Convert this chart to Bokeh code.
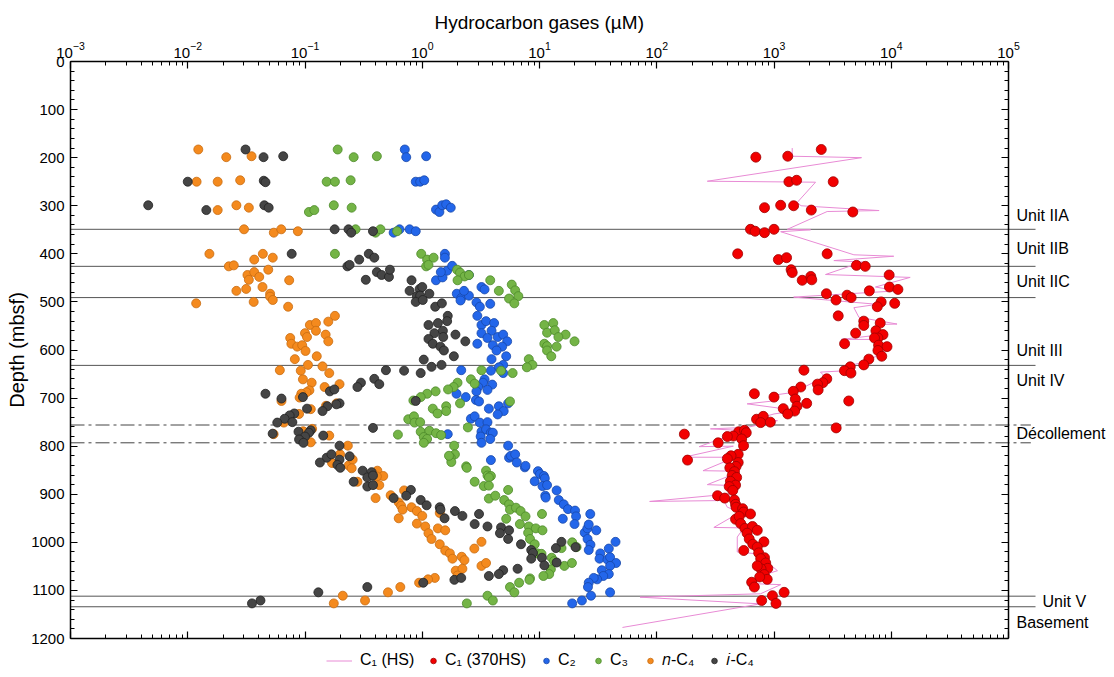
from bokeh.plotting import figure
from bokeh.layouts import column
from bokeh.models import (Range1d, LogAxis, LinearAxis, FixedTicker, CustomJSTickFormatter,
                          Label, Legend, LegendItem, LogTickFormatter)
from bokeh.embed import file_html
from bokeh.resources import INLINE

FONT = "Liberation Sans"

# ---------------- data: (depth mbsf, concentration µM) ----------------
C1_HS = [(180,1430),(197,1430),(200,5580),(249,270),(251,2260),(293,1580),(300,1700),(310,7880),
         (312,2840),(349,1300),(350,2050),(354,1140),(402,4800),(405,10500),(414,3240),(417,5650),
         (443,2750),(449,14500),(469,7330),(477,11200),(490,1470),(505,7600),(512,4800),(532,5300),
         (546,11200),(547,7600),(570,7100),(578,3740),(578,7100),(594,7600),(605,8800),(625,5830),
         (632,4500),(643,4200),(646,2490),(660,2840),(667,2190),(688,1470),(695,930),(705,1070),
         (712,590),(726,1580),(733,1000),(743,720),(747,1070),(761,590),(764,287),(768,590),
         (785,350),(801,230),(800,450),(823,170),(823,425),(833,373),(851,248),(852,450),(861,425),
         (880,270),(882,450),(899,436),(915,87),(913,373),(927,400),(937,518),(969,307),(970,552),
         (989,486),(1020,486),(1024,720),(1059,1070),(1066,865),(1086,673),(1088,1140),(1107,767),
         (1114,72),(1128,767),(1177,51)]

C1_370HS = [(183,2530),(199,700),(197,1310),(250,1340),(247,1560),(250,3200),(304,830),(299,1140),
            (300,1470),(309,2080),(313,4700),(349,630),(353,690),(356,830),(349,1000),(400,490),
            (412,1090),(408,1280),(400,2840),(424,5050),(426,6000),(433,1400),(439,1430),(455,1740),
            (447,2060),(454,2100),(444,9600),(469,9650),(474,11400),(477,6500),(483,2800),(496,3380),
            (486,4200),(491,4550),(500,8200),(510,7600),(503,10700),(529,3530),(540,5830),(549,5830),
            (544,8050),(560,7400),(568,8500),(575,7700),(575,7200),(590,7800),(593,9200),(601,7700),
            (613,8300),(565,4970),(587,4000),(619,6440),(631,5830),(635,4470),(643,3990),(648,4530),
            (642,1800),(660,2820),(668,2610),(671,2350),(683,2380),(677,1690),(686,1460),(691,680),
            (698,1000),(702,1520),(717,1570),(711,1900),(706,4340),(722,1200),(727,1500),(733,1310),
            (744,710),(738,810),(751,770),(750,930),(762,3390),(770,500),(767,560),(772,580),(779,450),
            (780,400),(775,172),(785,530),(799,550),(793,334),(817,495),(820,430),(826,400),(829,183),
            (834,495),(842,475),(845,420),(853,460),(861,440),(865,480),(873,425),(881,470),(884,415),
            (892,445),(903,330),(908,380),(912,460),(921,470),(927,475),(930,540),(937,550),(941,630),
            (952,470),(946,505),(961,520),(971,565),(967,655),(975,720),(981,590),(993,615),(999,820),
            (1004,660),(1010,720),(1022,740),(1032,830),(1034,770),(1043,850),(1054,885),(1055,775),
            (1067,825),(1077,875),(1072,755),(1049,720),(1017,552),(1083,645),(1093,680),(1104,1220),
            (1111,970),(1121,785),(1127,1040)]

C2 = [(183,0.71),(199,0.73),(197,1.08),(250,0.88),(250,0.96),(247,1.04),(308,1.31),(313,1.4),
      (299,1.48),(297,1.6),(304,1.75),(356,0.57),(349,0.64),(349,0.78),(353,0.88),(400,1.56),
      (408,1.56),(455,1.31),(449,1.49),(435,1.63),(425,1.8),(438,1.44),(444,2.5),(483,1.97),
      (492,2.15),(497,2.12),(487,2.5),(477,2.27),(469,3.2),(474,3.4),(501,2.9),(510,3.1),(504,3.8),
      (529,2.95),(548,3.2),(540,3.5),(544,4.1),(565,3.2),(560,3.9),(587,2.95),(575,3.6),(573,4.4),
      (568,4.9),(582,5.3),(590,4.0),(593,4.8),(601,4.3),(613,5.2),(619,3.9),(631,4.9),(636,4.5),
      (648,4.9),(642,2.15),(643,3.85),(661,3.4),(668,3.3),(677,3.0),(672,3.95),(683,3.6),(686,2.9),
      (704,2.87),(698,2.35),(691,1.96),(707,3.05),(722,3.7),(717,4.5),(727,4.95),(734,4.4),
      (711,5.4),(743,2.6),(738,2.8),(751,3.1),(750,3.6),(770,3.2),(765,3.5),(772,3.85),(772,4.0),
      (775,1.65),(780,3.15),(793,3.2),(785,3.8),(799,5.4),(829,3.85),(824,5.5),(820,5.7),(817,6.2),
      (834,6.4),(844,7.5),(841,7.6),(852,9.7),(858,10.1),(862,10.9),(867,11.1),(873,9.1),
      (883,10.6),(881,11.6),(903,11.2),(907,11.3),(892,14.0),(912,14.6),(921,16.1),(931,17.5),
      (934,20.1),(946,20.5),(951,15.8),(962,19.9),(941,27.1),(980,24.3),(971,25.6),(963,26.3),
      (975,30.5),(993,25.7),(1005,27.2),(1016,26.3),(1023,33),(1034,32.5),(1036,38),(1013,39),
      (1031,40),(999,44.5),(1043,45),(1049,40),(1058,34),(1066,39),(1070,35),(1077,31),(1074,29),
      (1084,26.3),(1093,25.9),(1104,40),(1111,27.5),(1121,23),(1127,19)]

C3 = [(183,0.19),(199,0.26),(197,0.41),(250,0.153),(250,0.18),(247,0.245),(313,0.108),(309,0.12),
      (299,0.176),(304,0.25),(349,0.27),(356,0.40),(349,0.44),(353,0.61),(400,0.18),(400,0.98),
      (412,1.1),(408,1.25),(426,1.08),(423,1.13),(433,1.98),(439,2.1),(447,2.3),(444,2.5),(455,2.0),
      (455,3.8),(477,4.5),(464,5.8),(476,6.2),(488,6.6),(493,5.5),(503,6.1),
      (548,11),(544,13.1),(564,11.6),(559,13.5),(568,16.7),(573,14.5),(582,19.9),(587,11),
      (592,11.6),(601,11.6),(613,12.6),(593,14.0),(619,8.1),(631,8.7),(636,7.8),(648,5.9),(642,3.2),
      (643,4.7),(661,2.6),(670,2.8),(668,2.0),(677,1.85),(682,1.66),(686,1.3),(691,1.1),(698,0.97),
      (705,0.84),(711,2.1),(722,1.23),(717,1.6),(732,1.35),(727,1.6),(707,5.6),(744,0.76),(738,0.85),
      (751,0.86),(750,0.96),(761,2.45),(770,0.97),(768,1.15),(773,1.31),(777,1.45),(781,1.03),
      (785,1.1),(793,1.03),(776,0.62),(799,1.87),(817,1.9),(824,1.75),(833,1.77),(820,1.69),
      (842,2.37),(845,2.4),(874,2.8),(851,3.5),(861,3.6),(862,3.85),(865,3.7),(883,3.35),(882,3.7),
      (909,3.7),(903,4.2),(891,5.4),(912,5.0),(921,5.5),(932,5.6),(928,6.3),(935,6.9),(946,7.6),
      (951,5.2),(962,6.8),(941,10.5),(967,8.1),(971,9.3),(975,10.6),(980,8.0),(993,8.3),(1004,9.1),
      (1023,9.6),(1024,10.4),(1012,15.4),(1000,19),(1010,20.7),(1032,12.7),(1039,13.3),(1049,16.3),
      (1043,18.9),(1056,12.5),(1066,12.1),(1070,10.8),(1075,8.3),(1078,8.2),(1084,6.7),(1093,5.6),
      (1104,6.1),(1111,3.6),(1121,4.0),(1127,2.4)]

N_C4 = [(183,0.0123),(199,0.0213),(197,0.035),(250,0.0119),(250,0.018),(247,0.028),(309,0.018),
        (299,0.026),(304,0.0332),(349,0.0302),(356,0.0542),(349,0.0627),(353,0.0869),(400,0.0153),
        (412,0.0369),(400,0.0437),(408,0.0531),(426,0.0224),(424,0.0247),(444,0.0323),(438,0.0369),
        (448,0.0407),(433,0.0486),(455,0.0733),(454,0.0332),(477,0.026),(473,0.0315),(469,0.0434),
        (483,0.0504),(489,0.0504),(496,0.0531),(503,0.0118),(500,0.0365),(510,0.0718),
        (529,0.18),(548,0.110),(544,0.124),(541,0.158),(560,0.124),(565,0.100),(573,0.104),
        (568,0.150),(582,0.158),(575,0.0748),(587,0.0765),(593,0.0858),(590,0.0946),(602,0.101),
        (613,0.126),(619,0.0819),(631,0.106),(634,0.141),(648,0.161),(642,0.061),(643,0.092),
        (661,0.096),(668,0.114),(677,0.147),(671,0.197),(684,0.109),(688,0.103),(691,0.093),
        (699,0.090),(706,0.063),(733,0.089),(723,0.112),(716,0.151),(711,0.186),(751,0.066),
        (764,0.115),(769,0.0965),(775,0.054),(792,0.112),(778,0.161),(799,0.232),(835,0.17),
        (817,0.199),(840,0.236),(828,0.255),(846,0.25),(851,0.414),(862,0.465),(863,0.41),(881,0.43),
        (874,0.28),(908,0.40),(902,0.538),(917,0.63),(950,0.63),(1104,0.51),(1093,0.65),(1111,0.21),
        (1121,0.325),(1127,0.176),(892,0.70),(924,0.66),(932,0.68),(927,0.81),(935,0.90),(945,1.0),
        (939,1.41),(961,0.90),(967,1.06),(981,1.13),(993,1.2),(971,1.36),(975,1.57),(1004,1.41),
        (1017,1.57),(1023,1.72),(1034,1.81),(1030,2.17),(1037,2.29),(1013,2.78),(999,3.2),
        (1059,1.93),(1055,2.2),(1069,2.0),(1049,3.2),(1043,3.5),(1074,1.28),(1077,1.12),(1084,0.94)]

I_C4 = [(183,0.0311),(199,0.0443),(197,0.0652),(250,0.0100),(248,0.0445),(251,0.046),(299,0.0046),
        (309,0.0144),(299,0.045),(304,0.049),(349,0.179),(349,0.235),(356,0.248),(353,0.38),
        (400,0.077),(426,0.23),(423,0.24),(412,0.29),(400,0.35),(408,0.39),(438,0.41),(444,0.45),
        (448,0.52),(433,0.53),(454,0.33),(455,0.81),(477,0.78),(473,0.95),(469,1.0),(488,0.9),
        (487,0.96),(483,1.15),(500,0.88),(496,1.01),(510,1.29),(503,1.47),(529,1.65),(540,1.63),
        (548,1.13),(544,1.36),(565,1.27),(560,1.5),(573,1.51),(568,1.92),(577,1.13),(587,1.23),
        (593,1.43),(601,1.53),(582,2.33),(613,1.86),(620,1.03),(643,0.70),(648,0.97),(635,1.2),
        (631,1.46),(706,0.88),(642,0.49),(660,0.39),(671,0.43),(668,0.30),(677,0.28),(686,0.163),
        (682,0.178),(691,0.046),(701,0.063),(698,0.096),(711,0.197),(713,0.185),(717,0.155),
        (727,0.141),(722,0.104),(732,0.081),(736,0.074),(743,0.067),(751,0.058),(750,0.078),
        (762,0.38),(774,0.053),(770,0.088),(767,0.112),(772,0.108),(780,0.10),(786,0.089),
        (793,0.097),(778,0.143),(799,0.197),(824,0.153),(817,0.168),(834,0.134),(828,0.197),
        (839,0.189),(845,0.2),(821,0.24),(851,0.31),(854,0.37),(865,0.34),(861,0.38),(874,0.26),
        (884,0.34),(881,0.38),(908,0.57),(1104,0.13),(1093,0.34),(1121,0.0417),(1127,0.0353),
        (891,0.80),(903,0.73),(912,0.97),(923,1.09),(927,1.41),(932,1.43),(950,1.55),(935,1.90),
        (945,2.2),(941,3.05),(962,2.8),(967,3.6),(969,4.7),(981,4.6),(975,5.5),(993,5.4),
        (1004,6.95),(1016,8.5),(1022,8.8),(1034,8.5),(1032,10.5),(1048,11.0),(1012,13.8),
        (999,15.4),(1010,20.3),(1042,14.0),(1058,4.9),(1066,4.5),(1055,6.5),(1070,3.7),
        (1078,1.88),(1074,2.15),(1084,1.02)]

# lithologic unit boundaries and labels
unit_boundaries = [349, 426, 491, 632, 1112, 1134]
decollement_boundaries = [756, 793]
unit_labels = ["Unit IIA", "Unit IIB", "Unit IIC", "Unit III", "Unit IV", "Décollement", "Unit V", "Basement"]
unit_label_depths = [320, 389, 458, 601, 663, 774, 1123, 1167]

x_decade_ticks = [1e-3, 1e-2, 1e-1, 1e0, 1e1, 1e2, 1e3, 1e4, 1e5]
depth_ticks = [0, 100, 200, 300, 400, 500, 600, 700, 800, 900, 1000, 1100, 1200]

# ---------------- layout ----------------
FRAME_W, FRAME_H = 1036, 577
BORDER_L, BORDER_T = 70, 61
PX_PER_DEC = (1008 - 70) / 8.0
x_hi = 10 ** (5 + (BORDER_L + FRAME_W - 1008) / PX_PER_DEC)

p = figure(frame_width=FRAME_W, frame_height=FRAME_H, x_axis_type="log", x_axis_location="above",
           x_range=Range1d(1e-3, x_hi), y_range=Range1d(1200, 0),
           title="Hydrocarbon gases (µM)",
           output_backend="svg", toolbar_location=None,
           min_border_left=BORDER_L, min_border_top=BORDER_T, min_border_right=0, min_border_bottom=14)
p.outline_line_color = None
p.grid.visible = False

p.title.align = "left"
p.title.offset = 364
p.title.text_font = FONT
p.title.text_font_size = "19px"
p.title.text_font_style = "normal"
p.title.text_color = "black"
p.title.standoff = 12

minor_x = [m * 10.0 ** k for k in range(-3, 5) for m in range(2, 10)]
xticker = FixedTicker(ticks=x_decade_ticks, minor_ticks=minor_x)
yticker = FixedTicker(ticks=depth_ticks, minor_ticks=list(range(0, 1201, 20)))
blank = CustomJSTickFormatter(code="return ''")

def style_axis(ax):
    ax.axis_line_color = "black"
    ax.axis_line_width = 1.5
    ax.major_tick_line_color = "black"
    ax.minor_tick_line_color = "black"
    ax.major_tick_line_width = 1.2
    ax.minor_tick_line_width = 1
    ax.major_tick_in = 7
    ax.major_tick_out = 0
    ax.minor_tick_in = 4
    ax.minor_tick_out = 0
    ax.major_label_text_font = FONT
    ax.major_label_text_font_size = "15px"
    ax.major_label_text_color = "black"

top = p.xaxis[0]
style_axis(top)
top.bounds = (1e-3, 1e5)
top.ticker = xticker
top.formatter = LogTickFormatter()
top.major_label_standoff = 4

left = p.yaxis[0]
style_axis(left)
left.ticker = yticker
left.major_label_standoff = 6
left.axis_label = "Depth (mbsf)"
left.axis_label_text_font = FONT
left.axis_label_text_font_size = "20px"
left.axis_label_text_font_style = "normal"
left.axis_label_text_color = "black"
left.axis_label_standoff = 0

bottom = LogAxis(bounds=(1e-3, 1e5), ticker=xticker, formatter=blank)
style_axis(bottom)
bottom.major_label_text_color = None
bottom.major_label_standoff = 0
p.add_layout(bottom, "below")

right = LinearAxis(fixed_location=1e5, ticker=yticker, formatter=blank)
style_axis(right)
right.major_label_text_color = None
p.add_layout(right, "right")

# unit boundary lines
n_b = len(unit_boundaries)
p.segment(x0=[1e-3] * n_b, x1=[1.7e5] * n_b, y0=unit_boundaries, y1=unit_boundaries,
          line_color="#555555", line_width=1)
n_d = len(decollement_boundaries)
p.segment(x0=[1e-3] * n_d, x1=[1.55e5] * n_d, y0=decollement_boundaries, y1=decollement_boundaries,
          line_color="#444444", line_width=1, line_dash="14 4 3 4")

for lab, dep in zip(unit_labels, unit_label_depths):
    xx = 1.95e5 if lab == "Unit V" else 1.17e5
    p.add_layout(Label(x=xx, y=dep, text=lab, text_align="left", text_baseline="middle",
                       text_font=FONT, text_font_size="16px", text_color="black"))

def split(pts):
    return [d for d, _ in pts], [v for _, v in pts]

STYLES = {
    "hs":  dict(line_color="#e88bd5", line_width=1),
    "370": dict(fill_color="#f20000", line_color="#a00000", line_width=0.8),
    "c2":  dict(fill_color="#2366ea", line_color="#1848a8", line_width=0.8),
    "c3":  dict(fill_color="#74b446", line_color="#4d8a2a", line_width=0.8),
    "n4":  dict(fill_color="#f48a1e", line_color="#c86c12", line_width=0.8),
    "i4":  dict(fill_color="#454545", line_color="#222222", line_width=0.8),
}
SERIES = [("hs", C1_HS), ("370", C1_370HS), ("c2", C2), ("c3", C3), ("n4", N_C4), ("i4", I_C4)]

def draw(fig):
    out = {}
    for key, pts in SERIES:
        d, v = split(pts)
        if key == "hs":
            out[key] = fig.line(v, d, **STYLES[key])
        else:
            out[key] = fig.scatter(v, d, size=10 if key == "370" else 9, marker="circle", **STYLES[key])
    return out

draw(p)

# ---------------- legend strip below the plot ----------------
# same renderers drawn into a thin strip whose ranges keep the data out of view
lg = figure(width=BORDER_L + FRAME_W, height=17, x_range=Range1d(0, 1), y_range=Range1d(0, 1),
            output_backend="svg", toolbar_location=None, min_border=0)
lg.axis.visible = False
lg.grid.visible = False
lg.outline_line_color = None
rl = draw(lg)

common = dict(orientation="horizontal", label_text_font=FONT, label_text_font_size="16px",
              label_text_color="black", border_line_color=None, background_fill_alpha=0,
              padding=0, margin=0, glyph_height=17, label_height=17)
leg1 = Legend(items=[LegendItem(label="C₁ (HS)", renderers=[rl["hs"]])],
              location=(256, 0), glyph_width=26, label_standoff=8, spacing=0, **common)
leg2 = Legend(items=[
    LegendItem(label="C₁ (370HS)", renderers=[rl["370"]]),
    LegendItem(label="C₂", renderers=[rl["c2"]]),
    LegendItem(label="C₃", renderers=[rl["c3"]]),
    LegendItem(label="𝑛-C₄", renderers=[rl["n4"]]),
    LegendItem(label="𝑖-C₄", renderers=[rl["i4"]]),
], location=(356, 0), glyph_width=14, label_standoff=5, spacing=13, **common)
lg.add_layout(leg1)
lg.add_layout(leg2)

layout = column(p, lg, spacing=0)
open("out.html", "w").write(file_html(layout, INLINE))
